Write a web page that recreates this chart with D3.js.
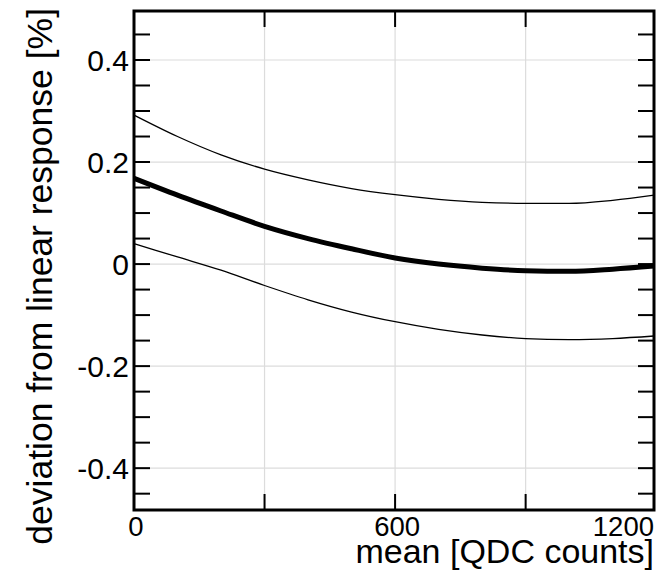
<!DOCTYPE html>
<html>
<head>
<meta charset="utf-8">
<script src="https://cdn.jsdelivr.net/npm/d3@7"></script>
<style>
  body { margin: 0; background: #fff; }
  text { font-family: "Liberation Sans", Arial, Helvetica, sans-serif; fill: #000; }
</style>
</head>
<body>
<svg id="chart" width="663" height="577"></svg>
<script>
(function () {
    // values
    const meanQDC  = [0, 100, 200, 300, 400, 500, 600, 700, 800, 900, 1000, 1100, 1195];
    const central  = [0.168, 0.135, 0.104, 0.074, 0.050, 0.030, 0.012, 0.000, -0.008, -0.013, -0.014, -0.010, -0.004];
    const upper    = [0.292, 0.250, 0.214, 0.186, 0.165, 0.148, 0.136, 0.127, 0.121, 0.119, 0.119, 0.125, 0.135];
    const lower    = [0.040, 0.014, -0.012, -0.042, -0.070, -0.094, -0.113, -0.128, -0.139, -0.146, -0.148, -0.146, -0.141];
    const xTicks   = [0, 300, 600, 900];
    const xLabels  = [0, 600, 1200];
    const yGrid    = [-0.4, -0.2, 0, 0.2, 0.4];
    const yMinor   = d3.range(-0.45, 0.4501, 0.05);

    const left = 134, right = 654, top = 11, bottom = 510;

    const svg = d3.select("#chart");

    const x = d3.scaleLinear().domain([0, 1195]).range([left, right]);
    const y = d3.scaleLinear().domain([-0.482, 0.496]).range([bottom, top]);

    //grid
    const grid = svg.append("g").attr("stroke", "#dcdcdc").attr("stroke-width", 1.2);
    grid.selectAll("line.gx").data(xTicks.slice(1)).enter().append("line")
        .attr("x1", d => x(d)).attr("x2", d => x(d))
        .attr("y1", top).attr("y2", bottom);
    grid.selectAll("line.gy").data(yGrid).enter().append("line")
        .attr("x1", left).attr("x2", right)
        .attr("y1", d => y(d)).attr("y2", d => y(d));

    //curves
    const line = d3.line().x((d, i) => x(meanQDC[i])).y(d => y(d)).curve(d3.curveMonotoneX);
    svg.append("path").attr("d", line(upper)).attr("fill", "none").attr("stroke", "#000").attr("stroke-width", 1.3);
    svg.append("path").attr("d", line(lower)).attr("fill", "none").attr("stroke", "#000").attr("stroke-width", 1.3);
    svg.append("path").attr("d", line(central)).attr("fill", "none").attr("stroke", "#000").attr("stroke-width", 5);

    //ticks
    const ticks = svg.append("g").attr("stroke", "#000").attr("stroke-width", 2);
    xTicks.forEach(t => {
        ticks.append("line").attr("x1", x(t)).attr("x2", x(t)).attr("y1", bottom).attr("y2", bottom - 16);
        ticks.append("line").attr("x1", x(t)).attr("x2", x(t)).attr("y1", top).attr("y2", top + 16);
    });
    yMinor.forEach(t => {
        ticks.append("line").attr("x1", left).attr("x2", left + 16).attr("y1", y(t)).attr("y2", y(t));
        ticks.append("line").attr("x1", right).attr("x2", right - 16).attr("y1", y(t)).attr("y2", y(t));
    });

    //frame
    svg.append("rect")
        .attr("x", left).attr("y", top)
        .attr("width", right - left).attr("height", bottom - top)
        .attr("fill", "none").attr("stroke", "#000").attr("stroke-width", 3);

    //tick labels
    svg.append("g").selectAll("text").data(yGrid).enter().append("text")
        .attr("x", left - 5).attr("y", d => y(d))
        .attr("dy", "0.36em")
        .attr("text-anchor", "end")
        .style("font-size", "30px")
        .text(d => d === 0 ? "0" : d3.format(".1f")(d).replace("−", "-"));

    svg.append("g").selectAll("text").data(xLabels).enter().append("text")
        .attr("x", d => d === 1200 ? right : x(d) + 2)
        .attr("y", 536)
        .attr("text-anchor", d => d === 1200 ? "end" : "middle")
        .style("font-size", "27.5px")
        .text(d => d);

    //axis titles
    svg.append("text")
        .attr("x", right).attr("y", 563)
        .attr("text-anchor", "end")
        .style("font-size", "34px")
        .text("mean [QDC counts]");

    svg.append("text")
        .attr("transform", "translate(52, 8) rotate(-90)")
        .attr("text-anchor", "end")
        .style("font-size", "35.5px")
        .text("deviation from linear response [%]");
})();
</script>
</body>
</html>
